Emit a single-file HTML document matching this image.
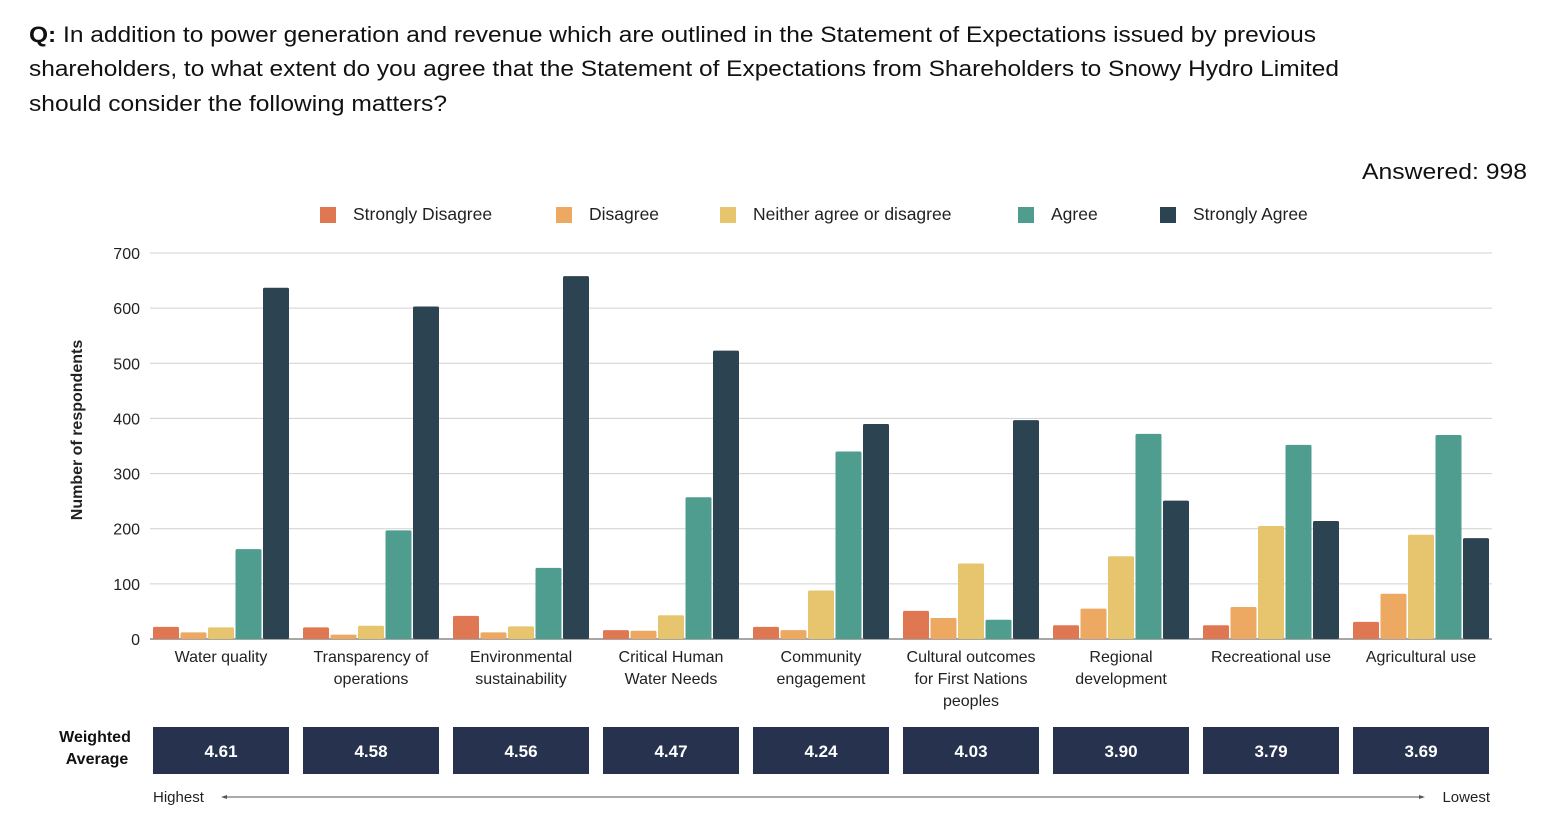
<!DOCTYPE html>
<html><head><meta charset="utf-8"><style>
html,body{margin:0;padding:0;background:#fff;}
svg{display:block;font-family:"Liberation Sans",sans-serif;}
</style></head><body>
<svg id="chart" width="1546" height="830" viewBox="0 0 1546 830" xmlns="http://www.w3.org/2000/svg">
<g font-size="22" fill="#111">
<text x="29" y="42" textLength="1287" lengthAdjust="spacingAndGlyphs"><tspan font-weight="bold">Q:</tspan> In addition to power generation and revenue which are outlined in the Statement of Expectations issued by previous</text>
<text x="29" y="76" textLength="1310" lengthAdjust="spacingAndGlyphs">shareholders, to what extent do you agree that the Statement of Expectations from Shareholders to Snowy Hydro Limited</text>
<text x="29" y="111" textLength="418" lengthAdjust="spacingAndGlyphs">should consider the following matters?</text>
</g>
<text x="1527" y="179" text-anchor="end" font-size="22" fill="#111" textLength="165" lengthAdjust="spacingAndGlyphs">Answered: 998</text>
<g id="legend"></g>
<g id="grid"></g>
<g id="bars"></g>
<g id="xlabels"></g>
<text transform="translate(82,430) rotate(-90)" text-anchor="middle" font-size="16" font-weight="bold" fill="#222">Number of respondents</text>
<g font-size="16" font-weight="bold" fill="#111" text-anchor="middle">
<text x="95" y="742">Weighted</text><text x="97" y="764">Average</text>
</g>
<g id="wavg"></g>
<g>
<text x="153" y="802" font-size="15" fill="#222">Highest</text>
<text x="1490" y="802" font-size="15" fill="#222" text-anchor="end">Lowest</text>
<line x1="224" y1="797" x2="1422" y2="797" stroke="#555" stroke-width="1"/>
<polygon points="221,797 227,795 227,799" fill="#555"/>
<polygon points="1425,797 1419,795 1419,799" fill="#555"/>
</g>
</svg>
<script>
const categories=[["Water quality"],["Transparency of","operations"],["Environmental","sustainability"],["Critical Human","Water Needs"],["Community","engagement"],["Cultural outcomes","for First Nations","peoples"],["Regional","development"],["Recreational use"],["Agricultural use"]];
const seriesNames=["Strongly Disagree","Disagree","Neither agree or disagree","Agree","Strongly Agree"];
const stronglyDisagree=[22,21,42,16,22,51,25,25,31];
const disagree=[12,8,12,15,16,38,55,58,82];
const neither=[21,24,23,43,88,137,150,205,189];
const agree=[163,197,129,257,340,35,372,352,370];
const stronglyAgree=[637,603,658,523,390,397,251,214,183];
const weightedAvg=["4.61","4.58","4.56","4.47","4.24","4.03","3.90","3.79","3.69"];
const yTicks=[0,100,200,300,400,500,600,700];
const colors=["#df7753","#eda862","#e6c56e","#4f9d8f","#2c4452"];
const series=[stronglyDisagree,disagree,neither,agree,stronglyAgree];
const NS="http://www.w3.org/2000/svg";
const x0=150,x1=1492,y0=639,yTop=253;
const yScale=v=>y0-(v/700)*(y0-yTop);
const gw=150;
const gx=i=>x0+i*gw+3;
const bw=26,bstep=27.5;
function mk(tag,attrs,parent){const e=document.createElementNS(NS,tag);for(const k in attrs)e.setAttribute(k,attrs[k]);parent.appendChild(e);return e;}
const grid=document.getElementById('grid');
yTicks.forEach(t=>{
 const l=mk('line',{x1:x0,x2:x1,y1:yScale(t),y2:yScale(t),stroke:t===0?'#888':'#d0d0d0','stroke-width':t===0?1.5:1},grid);
 
 
 const tx=mk('text',{x:140,y:yScale(t)+6,'text-anchor':'end','font-size':16,fill:'#222'},grid);
 tx.textContent=t;
 
 
});
const bars=document.getElementById('bars');
categories.forEach((c,i)=>{
 series.forEach((s,j)=>{
  const y=yScale(s[i]);
  const r=mk('rect',{x:gx(i)+j*bstep,y:y,width:bw,height:y0-y,fill:colors[j],rx:1.5},bars);
  
  
 });
 const xl=document.getElementById('xlabels');
 c.forEach((line,k)=>{
  const t=mk('text',{x:gx(i)+68,y:662+k*22,'text-anchor':'middle','font-size':16,fill:'#222'},xl);
  t.textContent=line;
  
  
 });
 const w=document.getElementById('wavg');
 const b=mk('rect',{x:gx(i),y:727,width:136,height:47,fill:'#27324f'},w);
 
 
 const bt=mk('text',{x:gx(i)+68,y:757,'text-anchor':'middle','font-size':17,'font-weight':'bold',fill:'#fff'},w);
 bt.textContent=weightedAvg[i];
 
 
});
const leg=document.getElementById('legend');
const lx=[320,556,720,1018,1160];
seriesNames.forEach((n,j)=>{
 const r=mk('rect',{x:lx[j],y:207,width:16,height:16,fill:colors[j]},leg);
 
 
 const t=mk('text',{x:lx[j]+33,y:220,'font-size':17.5,fill:'#222'},leg);
 t.textContent=n;
 
 
});
</script>
</body></html>
